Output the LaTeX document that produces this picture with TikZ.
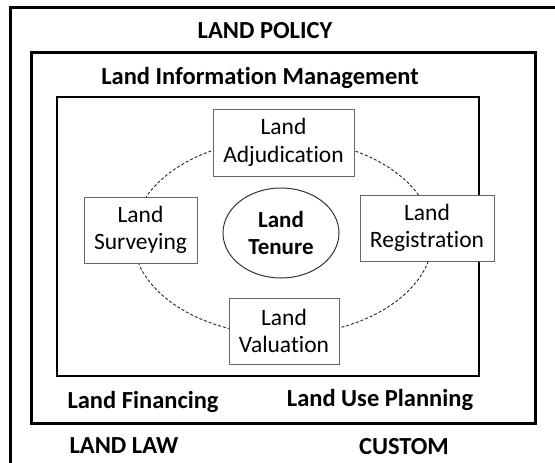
\documentclass[tikz,border=0pt]{standalone}
\usepackage{fontspec}
\setmainfont{Carlito}[Ligatures=CommonOff]
\usetikzlibrary{shapes.geometric}
\begin{document}
\begin{tikzpicture}[x=1pt,y=-1pt,
  frame/.style={draw=black, line width=3pt},
  item/.style={draw=black!60, fill=white, line width=0.9pt, align=center,
    font=\fontsize{23.5}{27.5}\selectfont, inner sep=0pt},
  title/.style={anchor=base, font=\bfseries\fontsize{24.5}{28}\selectfont, inner sep=0pt}]
\useasboundingbox (0,0) rectangle (555,463);
\clip (0,0) rectangle (555,463);
\fill[white] (0,0) rectangle (555,463);
% frames
\draw[frame] (10,7) rectangle (570,480);
\draw[frame] (31,52) rectangle (535,423);
\draw[draw=black, line width=1.6pt] (57,97) rectangle (479,376);
% dashed ring
\draw[dashed, dash pattern=on 3pt off 2pt, black!85, line width=0.9pt] (283,237) ellipse [x radius=150pt, y radius=98pt];
% nodes
\node[item, minimum width=141pt, minimum height=67pt] (adj) at (283.5,142.5) {Land\\Adjudication};
\node[item, minimum width=113pt, minimum height=66pt] (sur) at (140.5,230) {Land\\Surveying};
\node[item, minimum width=134pt, minimum height=66pt] (reg) at (427,228) {Land\\Registration};
\node[item, minimum width=110pt, minimum height=66pt] (val) at (284,331) {Land\\Valuation};
\node[ellipse, draw=black!80, line width=1pt, fill=white, minimum width=116pt, minimum height=90pt, inner sep=0pt, align=center,
  font=\bfseries\fontsize{23}{27.5}\selectfont] (ten) at (281,233) {Land\\Tenure};
% titles
\node[title] (policy) at (265,38) {LAND POLICY};
\node[title] (lim) at (260,84) {Land Information Management};
\node[title] (fin) at (143,408) {Land Financing};
\node[title] (lup) at (380,406) {Land Use Planning};
\node[title] (law) at (124,453) {LAND LAW};
\node[title] (cus) at (404,454) {CUSTOM};
\end{tikzpicture}
\end{document}
